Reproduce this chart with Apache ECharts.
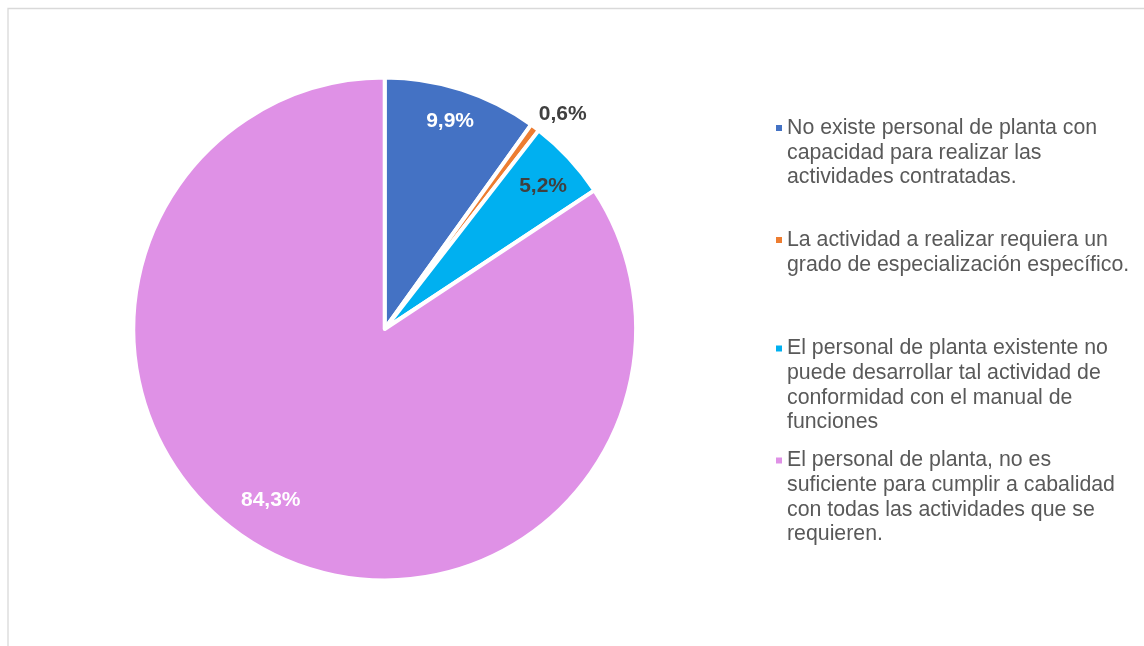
<!DOCTYPE html>
<html>
<head>
<meta charset="utf-8">
<script src="https://cdn.jsdelivr.net/npm/echarts@6/dist/echarts.min.js"></script>
<style>
  html, body { margin: 0; padding: 0; background: #ffffff; }
  #chart { width: 1144px; height: 646px; }
</style>
</head>
<body>
<div id="chart"></div>
<script>
// Motivos de la contratación (porcentaje de respuestas)
const categories = [
  'No existe personal de planta con capacidad para realizar las actividades contratadas.',
  'La actividad a realizar requiera un grado de especialización específico.',
  'El personal de planta existente no puede desarrollar tal actividad de conformidad con el manual de funciones',
  'El personal de planta, no es suficiente para cumplir a cabalidad con todas las actividades que se requieren.'
];
const values = [9.9, 0.6, 5.2, 84.3];

// Wrapped legend text, one array of lines per category
const legendLines = [
  ['No existe personal de planta con', 'capacidad para realizar las', 'actividades contratadas.'],
  ['La actividad a realizar requiera un', 'grado de especialización específico.'],
  ['El personal de planta existente no', 'puede desarrollar tal actividad de', 'conformidad con el manual de', 'funciones'],
  ['El personal de planta, no es', 'suficiente para cumplir a cabalidad', 'con todas las actividades que se', 'requieren.']
];

const colors = ['#4472C4', '#ED7D31', '#00B0F0', '#DF91E6'];
const labelColors = ['#ffffff', '#404040', '#404040', '#ffffff'];
// label offsets from the slice's inner label anchor
const labelShift = [[26, -85], [101, -112], [64, -55], [-53, 58]];

const FONT = '"Liberation Sans", Arial, sans-serif';
const LINE_H = 24.7;
const legendFirstLineY = [128, 240, 348.5, 460.5];

const chart = echarts.init(document.getElementById('chart'), null, { renderer: 'canvas' });

// Each legend entry is its own component so the entries keep an even spacing.
// The legend text is centred on its marker, so blank lines are put in front of
// the wrapped text to bring the marker level with the first line.
const legends = categories.map((name, i) => {
  const n = legendLines[i].length;
  const blank = new Array(n - 1).fill(' ');
  return {
    data: [name],
    orient: 'vertical',
    left: 776,
    top: legendFirstLineY[i] - (2 * n - 1) * LINE_H / 2,
    itemWidth: 6,
    itemHeight: 6,
    icon: 'rect',
    itemStyle: { borderWidth: 0 },
    selectedMode: false,
    padding: 0,
    formatter: () => blank.concat(legendLines[i]).join('\n'),
    textStyle: {
      fontFamily: FONT,
      fontSize: 21.3,
      color: '#595959',
      lineHeight: LINE_H
    }
  };
});

const option = {
  animation: false,
  color: colors,
  graphic: [{
    type: 'rect',
    shape: { x: 8, y: 8.5, width: 1400, height: 900 },
    style: { fill: 'none', stroke: '#d9d9d9', lineWidth: 1.3 },
    silent: true
  }],
  legend: legends,
  series: [{
    type: 'pie',
    center: [384.7, 329],
    radius: [0, 251.4],
    startAngle: 90,
    clockwise: true,
    avoidLabelOverlap: false,
    emphasis: { disabled: true },
    itemStyle: { borderColor: '#ffffff', borderWidth: 4 },
    labelLine: { show: false },
    label: {
      show: true,
      position: 'inside',
      fontFamily: FONT,
      fontSize: 21,
      fontWeight: 'bold',
      formatter: p => p.value.toFixed(1).replace('.', ',') + '%'
    },
    labelLayout: p => ({ dx: labelShift[p.dataIndex][0], dy: labelShift[p.dataIndex][1] }),
    data: categories.map((name, i) => ({
      name,
      value: values[i],
      label: { color: labelColors[i] }
    }))
  }]
};

chart.setOption(option);
</script>
</body>
</html>
